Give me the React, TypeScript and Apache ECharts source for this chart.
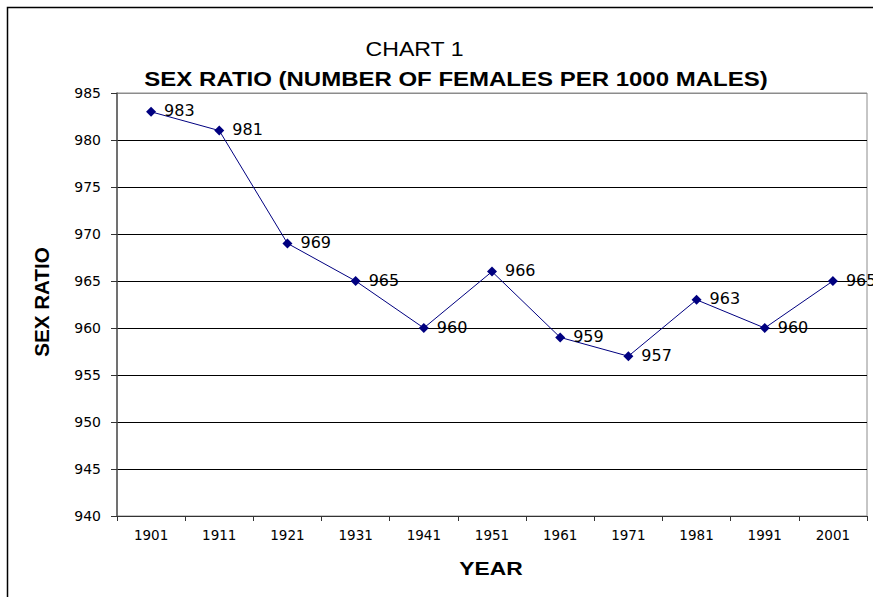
import React, { useEffect, useRef } from "react";
import * as echarts from "echarts";

// Census years and sex ratio (females per 1000 males)
const years = ["1901", "1911", "1921", "1931", "1941", "1951", "1961", "1971", "1981", "1991", "2001"];
const sexRatio = [983, 981, 969, 965, 960, 966, 959, 957, 963, 960, 965];

const yMin = 940;
const yMax = 985;
const yStep = 5;

const FONT = "Arial, 'Liberation Sans', sans-serif";
const NUM_FONT = "'DejaVu Sans', sans-serif";

export default function App() {
  const ref = useRef<HTMLDivElement>(null);

  useEffect(() => {
    if (!ref.current) return;
    const chart = echarts.init(ref.current, null, { renderer: "svg" });
    // grid line colours: the top line (at max) shares the grey plot border
    const lineCount = (yMax - yMin) / yStep + 1;
    const splitColors = Array.from({ length: lineCount }, (_, i) =>
      i === lineCount - 1 ? "#8c8c8c" : "#000000"
    );
    chart.setOption({
      animation: false,
      backgroundColor: "#ffffff",
      textStyle: { fontFamily: FONT },
      grid: {
        left: 117,
        top: 93,
        right: 6,
        bottom: 81,
        show: true,
        borderColor: "#8c8c8c",
        borderWidth: 1,
        containLabel: false,
      },
      xAxis: {
        type: "category",
        data: years,
        boundaryGap: true,
        axisLine: { show: true, lineStyle: { color: "#333", width: 1 } },
        axisTick: { show: true, inside: false, length: 5, lineStyle: { color: "#333" } },
        axisLabel: { color: "#000", fontSize: 13.5, fontFamily: NUM_FONT, margin: 12 },
        splitLine: { show: false },
      },
      yAxis: {
        type: "value",
        min: yMin,
        max: yMax,
        interval: yStep,
        axisLine: { show: true, lineStyle: { color: "#555", width: 1.5 } },
        axisTick: { show: true, inside: false, length: 6, lineStyle: { color: "#333" } },
        axisLabel: { color: "#000", fontSize: 14, fontFamily: NUM_FONT, margin: 16 },
        splitLine: { show: true, lineStyle: { color: splitColors, width: 1 } },
      },
      series: [
        {
          type: "line",
          data: sexRatio,
          symbol: "diamond",
          symbolSize: 10,
          lineStyle: { color: "#000080", width: 1 },
          itemStyle: { color: "#000080" },
          label: {
            show: true,
            position: "right",
            distance: 8,
            offset: [0, -1],
            color: "#000",
            fontSize: 16,
            fontFamily: NUM_FONT,
          },
        },
      ],
      graphic: [
        // outer frame (left and top edges)
        {
          type: "polyline",
          shape: { points: [[7.5, 597], [7.5, 7.5], [873, 7.5]] },
          style: { stroke: "#000", lineWidth: 1.5, fill: "none" },
          silent: true,
        },
        {
          type: "text",
          x: 414.5,
          y: 49,
          scaleX: 1.1,
          style: {
            text: "CHART 1",
            fontSize: 21,
            fontFamily: FONT,
            fill: "#000",
            align: "center",
            verticalAlign: "middle",
          },
        },
        {
          type: "text",
          x: 456,
          y: 79,
          scaleX: 1.2,
          style: {
            text: "SEX RATIO (NUMBER OF FEMALES PER 1000 MALES)",
            fontSize: 20,
            fontWeight: "bold",
            fontFamily: FONT,
            fill: "#000",
            align: "center",
            verticalAlign: "middle",
          },
        },
        {
          type: "text",
          x: 42,
          y: 302,
          rotation: Math.PI / 2,
          scaleX: 1.03,
          style: {
            text: "SEX RATIO",
            fontSize: 20,
            fontWeight: "bold",
            fontFamily: FONT,
            fill: "#000",
            align: "center",
            verticalAlign: "middle",
          },
        },
        {
          type: "text",
          x: 491,
          y: 568,
          scaleX: 1.2,
          style: {
            text: "YEAR",
            fontSize: 19,
            fontWeight: "bold",
            fontFamily: FONT,
            fill: "#000",
            align: "center",
            verticalAlign: "middle",
          },
        },
      ],
    });
    return () => chart.dispose();
  }, []);

  return (
    <div
      ref={ref}
      style={{ position: "fixed", left: 0, top: 0, width: 873, height: 597 }}
    />
  );
}
